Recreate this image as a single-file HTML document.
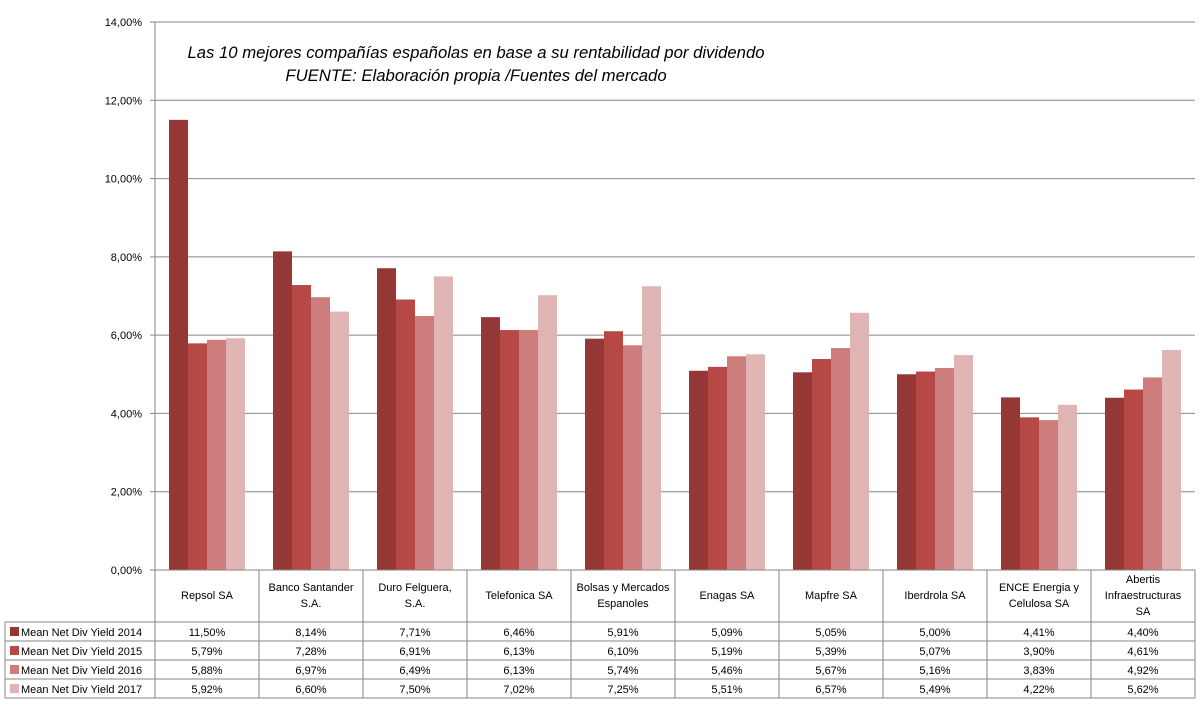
<!DOCTYPE html>
<html><head><meta charset="utf-8"><style>
body{margin:0;background:#fff;}
svg text{font-family:"Liberation Sans",sans-serif;}
</style></head><body>
<svg id="c" width="1200" height="702" xmlns="http://www.w3.org/2000/svg">
<rect width="1200" height="702" fill="#fff"/>
<g id="grid"></g><g id="bars"></g><g id="table"></g>
<text x="476" y="58" text-anchor="middle" font-size="16.7" font-style="italic" fill="#000">Las 10 mejores compañías españolas en base a su rentabilidad por dividendo</text>
<text x="476" y="81" text-anchor="middle" font-size="16.7" font-style="italic" fill="#000">FUENTE:  Elaboración propia /Fuentes del mercado</text>
</svg>
<script>
const categories=[["Repsol SA"],["Banco Santander","S.A."],["Duro Felguera,","S.A."],["Telefonica SA"],["Bolsas y Mercados","Espanoles"],["Enagas SA"],["Mapfre SA"],["Iberdrola SA"],["ENCE Energia y","Celulosa SA"],["Abertis","Infraestructuras","SA"]];
const seriesNames=["Mean Net Div Yield 2014","Mean Net Div Yield 2015","Mean Net Div Yield 2016","Mean Net Div Yield 2017"];
const y2014=[11.50,8.14,7.71,6.46,5.91,5.09,5.05,5.00,4.41,4.40];
const y2015=[5.79,7.28,6.91,6.13,6.10,5.19,5.39,5.07,3.90,4.61];
const y2016=[5.88,6.97,6.49,6.13,5.74,5.46,5.67,5.16,3.83,4.92];
const y2017=[5.92,6.60,7.50,7.02,7.25,5.51,6.57,5.49,4.22,5.62];
const yTicks=[0,2,4,6,8,10,12,14];
const colors=["#953735","#B64845","#CD7D7B","#E0B4B3"];
const series=[y2014,y2015,y2016,y2017];
const NS="http://www.w3.org/2000/svg";
const X0=155,CW=104,Y0=570,YT=22,YMAX=14;
const yS=v=>Y0-(v/YMAX)*(Y0-YT);
const xC=i=>X0+i*CW;
function mk(tag,attrs,parent,txt){const e=document.createElementNS(NS,tag);for(const k in attrs)e.setAttribute(k,attrs[k]);if(txt!==undefined)e.textContent=txt;document.getElementById(parent).appendChild(e);return e;}
const fmt=v=>v.toFixed(2).replace('.',',')+'%';
yTicks.forEach(t=>{const y=yS(t);
 const l=mk('line',{x1:X0,x2:X0+10*CW,y1:y,y2:y,stroke:'#868686','stroke-width':1},'grid');
 
 
 const tx=mk('text',{x:142,y:y+4,'text-anchor':'end','font-size':11,fill:'#000'},'grid',fmt(t));
 
 
 mk('line',{x1:X0-5,x2:X0,y1:y,y2:y,stroke:'#868686'},'grid');
});
const ax=mk('line',{x1:X0,x2:X0,y1:YT,y2:Y0,stroke:'#868686'},'grid');


series.forEach((s,si)=>s.forEach((v,i)=>{
 const b=mk('rect',{x:xC(i)+14+si*19,y:yS(v),width:19,height:Y0-yS(v),fill:colors[si]},'bars');
 
 
}));
const st={stroke:'#868686','stroke-width':1};
const rowY=[622,641,660,679,698];
mk('line',Object.assign({x1:X0,x2:X0+10*CW,y1:Y0,y2:Y0},st),'table');
rowY.forEach(y=>mk('line',Object.assign({x1:5,x2:X0+10*CW,y1:y,y2:y},st),'table'));
mk('line',Object.assign({x1:5,x2:5,y1:622,y2:698},st),'table');
for(let i=0;i<=10;i++)mk('line',Object.assign({x1:xC(i),x2:xC(i),y1:Y0,y2:698},st),'table');
categories.forEach((c,i)=>{const cx=xC(i)+CW/2;const n=c.length;const top=599-(n-1)*8;
 c.forEach((ln,k)=>{const t=mk('text',{x:cx,y:top+k*16,'text-anchor':'middle','font-size':11,fill:'#000'},'table',ln);
 
 });
});
series.forEach((s,si)=>{const y=rowY[si]+14;
 mk('rect',{x:10,y:rowY[si]+5,width:9,height:9,fill:colors[si]},'table');
 const lg=mk('text',{x:21,y:y,'font-size':11,fill:'#000'},'table',seriesNames[si]);
 
 
 s.forEach((v,i)=>{const t=mk('text',{x:xC(i)+CW/2,y:y,'text-anchor':'middle','font-size':11,fill:'#000'},'table',fmt(v));
 
 });
});
</script>
</body></html>
